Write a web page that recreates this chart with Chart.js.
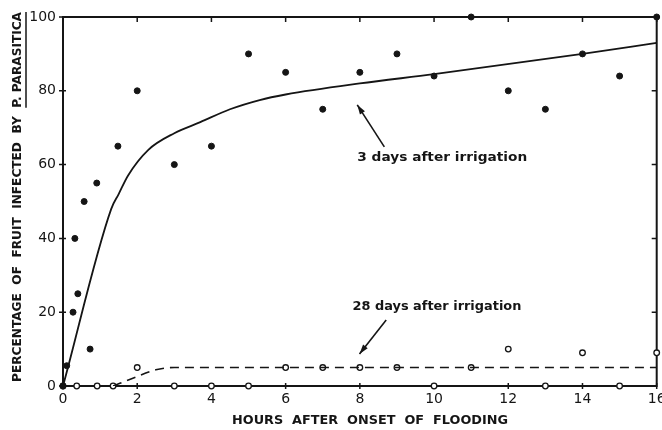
<!DOCTYPE html>
<html>
<head>
<meta charset="utf-8">
<script src="https://cdn.jsdelivr.net/npm/chart.js@4/dist/chart.umd.min.js"></script>
<style>
  html, body { margin: 0; padding: 0; background: #fff; }
  #wrap { width: 662px; height: 430px; }
</style>
</head>
<body>
<div id="wrap"><canvas id="chart"></canvas></div>
<script>
// 3 days after irrigation (filled dots)
const hours3 = [0, 0.1, 0.27, 0.32, 0.4, 0.57, 0.73, 0.91, 1.48, 2, 3, 4, 5, 6, 7, 8, 9, 10, 11, 12, 13, 14, 15, 16];
const pct3   = [0, 5.5, 20, 40, 25, 50, 10, 55, 65, 80, 60, 65, 90, 85, 75, 85, 90, 84, 100, 80, 75, 90, 84, 100];

// 28 days after irrigation (open circles)
const hours28 = [0, 0.37, 0.92, 1.35, 2, 3, 4, 5, 6, 7, 8, 9, 10, 11, 12, 13, 14, 15, 16];
const pct28   = [0, 0, 0, 0, 5, 0, 0, 0, 5, 5, 5, 5, 0, 5, 10, 0, 9, 0, 9];

// fitted curves
const fit3X = [0, 1.3, 1.5, 1.75, 2.3, 3, 3.7, 4.5, 5.3, 6, 8, 10, 14, 16];
const fit3Y = [0, 48, 52, 57, 64, 68.5, 71.5, 75, 77.5, 79, 82, 84.5, 90, 93];
const fit28X = [1.35, 1.9, 2.5, 3, 5, 16];
const fit28Y = [0, 2.2, 4.4, 5, 5, 5];

const xTicks = [0, 2, 4, 6, 8, 10, 12, 14, 16];
const yTicks = [0, 20, 40, 60, 80, 100];

const pts = (xs, ys) => xs.map((x, i) => ({ x: x, y: ys[i] }));
const ink = '#151515';
const font = "'DejaVu Sans', sans-serif";

function fitText(ctx, text, x, y, width) {
    const w = ctx.measureText(text).width;
    ctx.save();
    ctx.translate(x, y);
    ctx.scale(width / w, 1);
    ctx.fillText(text, 0, 0);
    ctx.restore();
}

const figure = {
    id: 'figure',
    beforeDatasetsDraw(chart) {
        const { ctx, chartArea: a, scales: { x, y } } = chart;
        ctx.save();
        ctx.strokeStyle = ink;
        ctx.lineWidth = 2;
        ctx.strokeRect(a.left, a.top, a.right - a.left, a.bottom - a.top);
        ctx.lineWidth = 1.5;
        ctx.beginPath();
        xTicks.forEach(v => {
            const px = x.getPixelForValue(v);
            ctx.moveTo(px, a.top); ctx.lineTo(px, a.top + 5);
            ctx.moveTo(px, a.bottom - 3); ctx.lineTo(px, a.bottom + 3);
        });
        yTicks.forEach(v => {
            const py = y.getPixelForValue(v);
            ctx.moveTo(a.left - 4, py); ctx.lineTo(a.left + 3, py);
            ctx.moveTo(a.right - 5, py); ctx.lineTo(a.right, py);
        });
        ctx.stroke();
        ctx.restore();
    },
    afterDraw(chart) {
        const { ctx, scales: { x, y } } = chart;
        ctx.save();
        ctx.fillStyle = ink;
        ctx.strokeStyle = ink;
        ctx.textBaseline = 'middle';
        ctx.textAlign = 'left';

        // annotations
        ctx.font = 'bold 13px ' + font;
        fitText(ctx, '3 days after irrigation', x.getPixelForValue(7.93), y.getPixelForValue(61.8), 170);
        fitText(ctx, '28 days after irrigation', x.getPixelForValue(7.8), y.getPixelForValue(21.4), 169);

        const arrow = (x1, y1, x2, y2) => {
            const ax = x.getPixelForValue(x1), ay = y.getPixelForValue(y1);
            const bx = x.getPixelForValue(x2), by = y.getPixelForValue(y2);
            const ang = Math.atan2(by - ay, bx - ax);
            ctx.lineWidth = 1.6;
            ctx.beginPath();
            ctx.moveTo(ax, ay); ctx.lineTo(bx, by);
            ctx.stroke();
            ctx.beginPath();
            ctx.moveTo(bx, by);
            ctx.lineTo(bx - 10 * Math.cos(ang - 0.3), by - 10 * Math.sin(ang - 0.3));
            ctx.lineTo(bx - 10 * Math.cos(ang + 0.3), by - 10 * Math.sin(ang + 0.3));
            ctx.closePath();
            ctx.fill();
        };
        arrow(8.66, 64.8, 7.93, 76.2);
        arrow(8.71, 17.9, 7.99, 8.7);

        // x title
        ctx.font = 'bold 13px ' + font;
        fitText(ctx, 'HOURS  AFTER  ONSET  OF  FLOODING', 232, 421, 276);

        // y title, rotated, with underlined species name
        ctx.save();
        ctx.translate(18, 382);
        ctx.rotate(-Math.PI / 2);
        const part1 = 'PERCENTAGE  OF  FRUIT  INFECTED  BY  ';
        const part2 = 'P. PARASITICA';
        const w1 = ctx.measureText(part1).width, w2 = ctx.measureText(part2).width;
        const k = 370 / (w1 + w2);
        ctx.scale(k, 1);
        ctx.fillText(part1, 0, 0);
        ctx.fillText(part2, w1, 0);
        ctx.lineWidth = 1.5;
        ctx.beginPath();
        ctx.moveTo(w1, 8); ctx.lineTo(w1 + w2, 8);
        ctx.stroke();
        ctx.restore();

        ctx.restore();
    }
};

new Chart(document.getElementById('chart'), {
    type: 'scatter',
    data: {
        datasets: [
            {
                type: 'line',
                data: pts(fit3X, fit3Y),
                borderColor: ink,
                borderWidth: 1.8,
                pointRadius: 0,
                cubicInterpolationMode: 'monotone',
                fill: false
            },
            {
                type: 'line',
                data: pts(fit28X, fit28Y),
                borderColor: ink,
                borderWidth: 1.6,
                borderDash: [9, 6],
                pointRadius: 0,
                cubicInterpolationMode: 'monotone',
                fill: false
            },
            {
                data: pts(hours3, pct3),
                backgroundColor: ink,
                borderColor: ink,
                pointRadius: 3,
                clip: false
            },
            {
                data: pts(hours28, pct28),
                backgroundColor: '#fff',
                borderColor: ink,
                borderWidth: 1.3,
                pointRadius: 2.8,
                clip: false
            }
        ]
    },
    options: {
        responsive: true,
        maintainAspectRatio: false,
        animation: false,
        events: [],
        layout: { padding: { top: 17, right: 4, left: 0, bottom: 0 } },
        plugins: {
            legend: { display: false },
            tooltip: { enabled: false }
        },
        scales: {
            x: {
                type: 'linear',
                min: 0, max: 16,
                afterFit: s => { s.height = 44; s.paddingLeft = 0; s.paddingRight = 0; },
                afterBuildTicks: s => { s.ticks = xTicks.map(v => ({ value: v })); },
                grid: { display: false, drawTicks: false, tickLength: 0 },
                border: { display: false },
                ticks: { color: ink, padding: 5, font: { family: font, size: 14 } }
            },
            y: {
                min: 0, max: 100,
                afterFit: s => { s.width = 63; s.paddingTop = 0; s.paddingBottom = 0; },
                afterBuildTicks: s => { s.ticks = yTicks.map(v => ({ value: v })); },
                grid: { display: false, drawTicks: false, tickLength: 0 },
                border: { display: false },
                ticks: { color: ink, padding: 7, font: { family: font, size: 14 } }
            }
        }
    },
    plugins: [figure]
});
</script>
</body>
</html>
